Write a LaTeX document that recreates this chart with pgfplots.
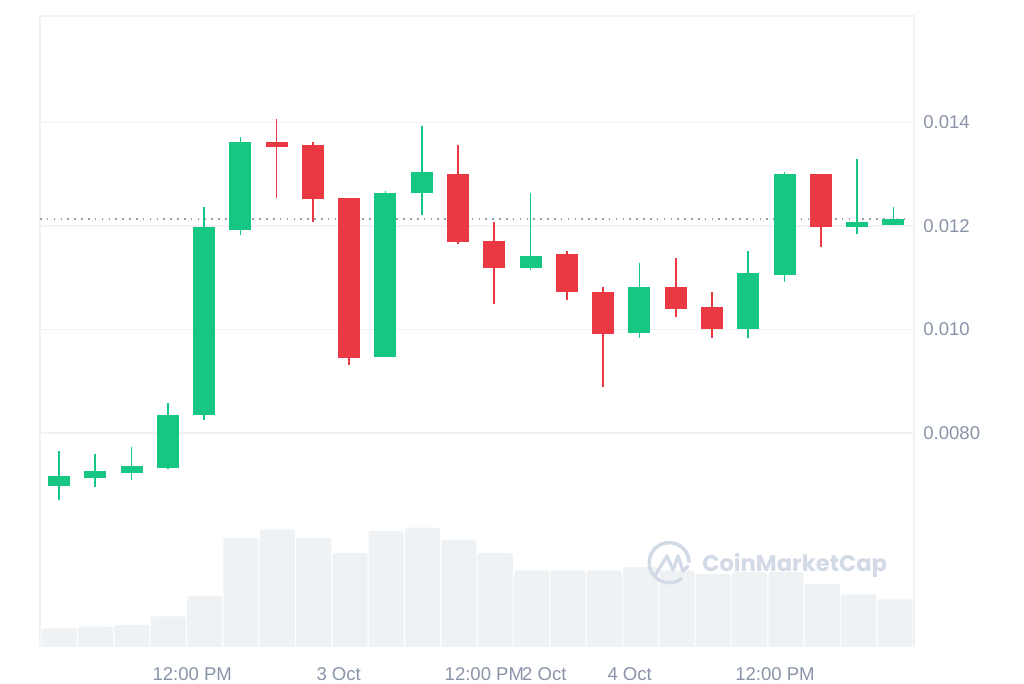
\documentclass[border=0pt]{standalone}
\usepackage{fontspec}
\setmainfont{Liberation Sans}
\newfontfamily\wmfont{Poppins}
\usepackage{pgfplots}
\pgfplotsset{compat=1.18}
\usepackage{pgfplotstable}
\definecolor{upc}{HTML}{16C784}
\definecolor{downc}{HTML}{EA3943}
\definecolor{gridc}{HTML}{F1F2F3}
\definecolor{volc}{HTML}{EFF2F5}
\definecolor{tickc}{HTML}{8A94A8}
\definecolor{dotc}{HTML}{979DAB}
\definecolor{wmc}{HTML}{D3DAE7}
\pgfplotstableread{
x low high bot top
0 0.00671 0.007662 0.006975 0.007168
1 0.006967 0.007598 0.007141 0.007264
2 0.007102 0.007728 0.007237 0.007361
3 0.007303 0.008583 0.007334 0.008351
4 0.008261 0.012373 0.008357 0.011981
5 0.01182 0.013724 0.011923 0.013627
9 0.009477 0.012676 0.009477 0.012637
10 0.012212 0.013925 0.012643 0.013037
13 0.011156 0.012637 0.011195 0.011421
16 0.009838 0.011286 0.00994 0.010828
19 0.009838 0.011517 0.010006 0.011087
20 0.010925 0.013037 0.01106 0.013004
22 0.011846 0.013299 0.011981 0.012077
23 0.012014 0.012373 0.012014 0.012141
}\upcandles
\pgfplotstableread{
x low high bot top
6 0.012541 0.01406 0.013531 0.013627
7 0.012083 0.013627 0.012515 0.013564
8 0.009311 0.012535 0.009446 0.012535
11 0.011653 0.013564 0.011685 0.013004
12 0.0105 0.012077 0.011195 0.011716
14 0.010566 0.011517 0.010732 0.011454
15 0.008886 0.010822 0.009909 0.010726
17 0.010237 0.011382 0.010398 0.010828
18 0.009838 0.010726 0.010006 0.01043
21 0.011589 0.013004 0.011981 0.013004
}\downcandles
\pgfplotstableread{
x vol
0 22.2
1 23.8
2 25.5
3 34.2
4 54.5
5 112.5
6 121.2
7 112.5
8 97.5
9 119.5
10 122.8
11 110.8
12 97.5
13 80.2
14 80.2
15 80.2
16 83.5
17 80.2
18 76.5
19 78.5
20 78.5
21 66.5
22 56.2
23 51.2
}\volumes
\pgfplotsset{
  base/.style={
    at={(30pt,27.375pt)}, anchor=south west,
    width=655.5pt, height=472.875pt, scale only axis,
    axis line style={gridc, line width=1.1pt},
    major tick length=0pt,
    tick style={draw=none},
  },
  wick/.style={draw=none, mark=none, forget plot,
    error bars/.cd, y dir=plus, y explicit, error mark=none,
    error bar style={color=#1, line width=1.25pt}},
  body/.style={draw=none, mark=none, forget plot,
    error bars/.cd, y dir=plus, y explicit, error mark=none,
    error bar style={color=#1, line width=16.5pt}},
}
\begin{document}
\begin{tikzpicture}
\path[use as bounding box, fill=white] (0,0) rectangle (768pt,512.25pt);
% volume
\begin{axis}[base,
  xmin=-0.531, xmax=23.526,
  ymin=4, ymax=634.5, ytick=\empty,
  xtick={3.66,7.69,11.7,13.35,15.7,19.7},
  xticklabels={12:00 PM,3 Oct,12:00 PM,2 Oct,4 Oct,12:00 PM},
  xticklabel style={font=\fontsize{13.9pt}{16pt}\selectfont, text=tickc, anchor=base, yshift=-25.3pt},
]
\addplot[ybar, bar width=26.4pt, fill=volc, draw=none, rounded corners=2pt] table[x=x,y=vol] {\volumes};
\end{axis}
% candles
\begin{axis}[base,
  xmin=-0.524, xmax=23.57,
  ymin=0.003882, ymax=0.016054,
  xtick=\empty,
  ytick={0.008,0.010,0.012,0.014},
  yticklabels={0.0080,0.010,0.012,0.014},
  ymajorgrids, grid style={gridc, line width=1.1pt},
  ytick pos=right, yticklabel pos=right,
  yticklabel style={font=\fontsize{13.9pt}{16pt}\selectfont, text=tickc, anchor=west, xshift=3.5pt},
  clip=true,
]
\addplot[dotc, line width=1.2pt, dash pattern=on 1.2pt off 3.94pt, forget plot] coordinates {(-0.524,0.01213)(23.45,0.01213)};
\addplot[wick=upc] table[x=x,y=low,y error expr=\thisrow{high}-\thisrow{low}] {\upcandles};
\addplot[wick=downc] table[x=x,y=low,y error expr=\thisrow{high}-\thisrow{low}] {\downcandles};
\addplot[body=upc] table[x=x,y=bot,y error expr=\thisrow{top}-\thisrow{bot}] {\upcandles};
\addplot[body=downc] table[x=x,y=bot,y error expr=\thisrow{top}-\thisrow{bot}] {\downcandles};
\end{axis}
% watermark
\begin{scope}[x=0.75pt,y=0.75pt]
\draw[wmc, line width=2.6pt] (682,105) arc[start angle=-50, end angle=-360, radius=20];
\draw[wmc, line width=2.4pt, line join=round, line cap=round] (656,109) -- (667,127) -- (673,113) -- (678,127) -- (683,112) -- (688,117);
\node[anchor=west, text=wmc, inner sep=0pt, font=\wmfont\fontsize{17pt}{20pt}\selectfont\bfseries] at (702,118) {CoinMarketCap};
\end{scope}
\end{tikzpicture}
\end{document}
